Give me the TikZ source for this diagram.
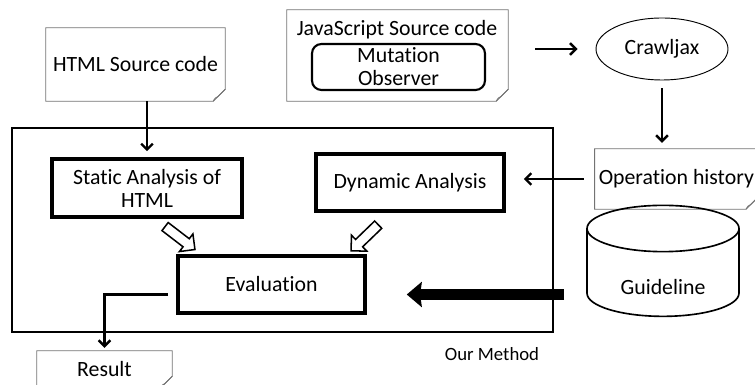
\documentclass[tikz,border=0pt]{standalone}
\usepackage{fontspec}
\setmainfont{Carlito}[Ligatures=NoCommon]
\usetikzlibrary{shapes.geometric,shapes.arrows,arrows.meta}

% paper sheet with a dog-eared lower right corner
\newcommand{\docframe}[1]{%
  \draw[docline] (#1.north west) -- (#1.north east) -- ([yshift=.36cm]#1.south east)
    -- ([xshift=-.36cm]#1.south east) -- (#1.south west) -- cycle;
  \draw[docline] ([yshift=.36cm]#1.south east) -- ([xshift=-.22cm,yshift=.14cm]#1.south east)
    .. controls ([xshift=-.3cm,yshift=.1cm]#1.south east) .. ([xshift=-.36cm]#1.south east);
}

\tikzset{
  docline/.style={draw=black!55, line width=.8pt},
  box/.style={draw, line width=3pt, align=center},
  flow/.style={line width=2pt, -{Straight Barb[length=5pt,width=10pt]}},
  hollow/.style={single arrow, draw, line width=1.3pt, inner sep=0pt,
    text height=.13cm, text depth=.13cm, minimum height=1.13cm,
    minimum width=.66cm, single arrow head extend=.18cm}
}

\begin{document}
\begin{tikzpicture}[font=\fontsize{18.6}{19.6}\selectfont]
\useasboundingbox (0,0) rectangle (22.65,11.55);
\clip (0,0) rectangle (22.65,11.55);

% inputs
\node[minimum width=5.37cm, minimum height=2.19cm] (html) at (4.065,9.615) {HTML Source code};
\docframe{html}

\node[minimum width=6.63cm, minimum height=2.73cm] (js) at (11.925,9.885) {};
\docframe{js}
\node (jstitle) at (11.91,10.65) {JavaScript Source code};
\node[draw, line width=1.8pt, rounded corners=8pt, align=center,
  minimum width=5.19cm, minimum height=1.32cm] (mo) at (11.955,9.54) {Mutation\\Observer};

\node[ellipse, draw, line width=.8pt, minimum width=3.96cm, minimum height=1.86cm] (crawl) at (19.86,10.08) {Crawljax};

\node[minimum width=4.82cm, minimum height=1.8cm] (op) at (20.29,6.18) {Operation history};
\docframe{op}

\node[cylinder, shape border rotate=90, aspect=.5, draw, line width=1.4pt, text height=1.1cm,
  minimum width=4.56cm, minimum height=3.33cm] (guide) at (19.89,3.255) {Guideline};

% our method
\node[draw, line width=2.2pt, minimum width=16.23cm, minimum height=6.12cm] (method) at (8.475,4.65) {};
\node[font=\fontsize{16}{18}\selectfont] (methodlbl) at (14.76,.93) {Our Method};

\node[box, minimum width=5.7cm, minimum height=1.74cm] (static) at (4.41,5.91) {Static Analysis of\\HTML};
\node[box, minimum width=5.64cm, minimum height=1.71cm] (dyn) at (12.3,6.075) {Dynamic Analysis};
\node[box, minimum width=5.61cm, minimum height=1.71cm] (ev) at (8.145,3.015) {Evaluation};

\node[hollow, rotate=-37.5] (s2e) at (5.34,4.455) {};
\node[hollow, rotate=-136] (d2e) at (10.995,4.47) {};

\node[minimum width=4.05cm, minimum height=1.11cm] (result) at (3.135,.465) {Result};
\docframe{result}

% connectors
\draw[flow, shorten >=.18cm] (static.north |- html.south) -- (static.north);
\draw[flow, shorten <=.81cm, shorten >=.54cm] (crawl.west -| js.east) -- (crawl.west);
\draw[flow, shorten <=.24cm, shorten >=.18cm] (crawl.south) -- (crawl.south |- op.north);
\draw[flow, shorten <=.33cm, shorten >=.54cm] (op.west) -- (op.west -| dyn.east);
\draw[flow, shorten <=.24cm, shorten >=.09cm] ([yshift=-.3cm]ev.west) -| (result.north);

\coordinate (feed) at ([yshift=-.3cm]ev.east);
\draw[line width=.33cm, -{Stealth[length=.45cm,width=.75cm,inset=.05cm]},
  shorten <=.66cm, shorten >=1.2cm] (feed -| guide.west) -- (feed);

\end{tikzpicture}
\end{document}
